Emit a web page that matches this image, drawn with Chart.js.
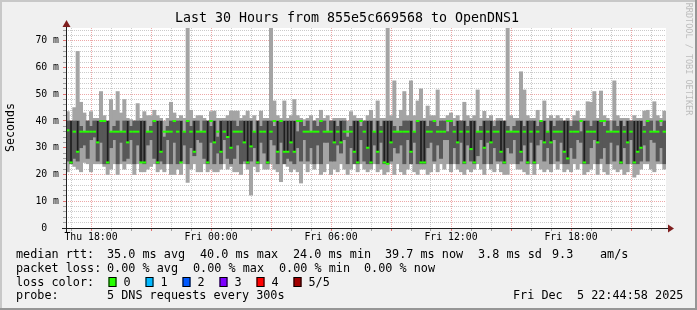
<!DOCTYPE html>
<html>
<head>
<meta charset="utf-8">
<script src="https://cdn.jsdelivr.net/npm/chart.js@4.4.0/dist/chart.umd.min.js"></script>
<style>
html,body{margin:0;padding:0;background:#f0f0f0;}
#graph{display:block;}
</style>
</head>
<body>
<canvas id="graph" width="697" height="310"></canvas>
<script>
// one slot = 10 minutes, 180 slots = last 30 hours (Thu 16:45 .. Fri 22:45), values in ms
var pingMax = [
43.5,40,45,66,47,43,40,43.5,41,41, 51,42,40,48,44,51,43,48,41,40.5,
40,46.5,41,43.5,42,42,44,42,41,40, 41,47,43,41,42,41,74.8,44,41,42,
42,41,40,43.5,43.7,41,41,41,42,43.7, 43.7,43.7,41,42,43.7,41,42,40,43.7,41,
41,74.8,47.5,42,41,47.5,41,42,48,42, 41,40.5,41,42,40,41,44,41,42,40,
41,41,41,41,40,43.5,42,41,41,40, 42,44,41,47.5,41,41,74.8,42,55,41,
44,51,42,55,42,47.5,52,41,45.6,42, 42,51.6,41,41,42,43,41,42,40,47,
42,41,42,51.6,41,43.6,41,42,40,41, 41,40,74.8,42,41,41,58.4,51.6,42,41,
41,44,40,47.5,41,42,41,42,41,40, 41,40,42,43.7,41,41,47.2,47,51,41,
51.2,42,41,40,55,42,41,41,41,40, 42,41,41,43.7,44,41,47.2,42,41,43.7
];
var pingMin = [
21,24,23,22,21,24.5,24,21,24,24, 24,23,20,22,24,20,24,22,24,24,
20,24,21,21,22,23,24,21,22,21, 24,20,20,22,20,24,17,22,24,21,
21,24,21,22,21,21,22,24,22,23, 21,21,20,24,22,12.3,23,21,24,22,
22,24,22,21,17.3,24,23,21,22,21, 16.8,24,21,24,22,24,20,21,24,20,
22,21,24,22,20,22,24,21,24,22, 21,22,24,21,22,20,21,24,20,24,
21,20,22,24,21,20,22,22,20,21, 24,21,24,22,24,21,24,22,21,20,
22,21,22,24,22,20,24,22,21,24, 21,20,20,24,24,22,22,21,20,24,
20,24,22,21,22,21,24,22,24,21, 22,21,24,22,24,20,21,22,24,20,
24,21,20,24,22,21,22,20,21,24, 19,20,22,24,24,22,21,24,24,22
];
var pingHi = [
40,40,40,40,38,36,40,38,40,40, 40,40,40,36,38,40,36,40,40,38,
40,40,40,40,36,38,40,40,40,34, 38,40,40,40,40,36,40,38,40,40,
36,40,40,38,40,34,40,40,40,40, 40,38,40,40,40,40,36,40,38,40,
40,40,38,40,40,40,40,40,40,36, 40,38,40,36,40,38,40,40,36,40,
40,38,40,40,34,38,40,40,38,40, 40,40,36,40,38,40,40,40,38,36,
38,40,40,40,36,40,40,40,38,40, 40,38,40,40,36,40,38,40,40,40,
38,40,40,36,38,40,40,40,38,40, 40,40,38,36,38,40,40,38,40,40,
40,38,40,40,36,40,38,40,40,40, 40,38,40,40,36,40,40,38,40,40,
40,38,40,36,40,38,40,38,40,40, 40,40,40,38,40,40,36,40,38,40
];
var pingLo = [
25,24,26,25,30,31,26,33,34,25, 32,24,24,30,33,24,32,25,26,33,
24,31,25,24,31,33,26,24,25,24, 33,24,32,24,25,31,24,30,27,33,
32,26,24,32,24,28,24,33,26,24, 26,31,24,25,24,25,30,24,32,28,
24,33,31,24,32,24,26,25,24,30, 25,33,25,30,24,31,24,32,32,25,
25,31,28,33,24,30,24,24,33,25, 24,24,31,24,32,24,24,25,30,28,
31,24,33,24,32,24,24,24,30,32, 25,31,26,33,33,24,30,24,32,24,
31,25,24,27,33,24,32,24,30,25, 25,24,30,28,33,24,25,31,24,32,
24,31,33,25,30,24,33,25,32,24, 24,30,26,33,32,24,24,30,33,24,
26,30,24,32,25,31,24,30,24,33, 24,24,25,31,25,33,32,25,30,24
];
var medianRtt = [
36.5,24.5,36,28.5,36,36,36,36,36,32, 40,40,24.5,36,36,36,36,36,32,36,
36,36,24.5,24.5,36,36,40,24.5,28.5,36, 36,36,40,36,24.5,36,40,36,28.5,36,
36,36,24.5,40,32,36,28.5,36,34,30, 36,36,36,32,24.5,30.5,36,24.5,36,36,
24.5,36,40,28.5,40,28.5,28.5,32,28.5,40, 40,36,36,36,36,36,40,36,36,36,
32,36,32,36,36,36,28.5,24.5,40,36, 30,24.5,36,28.5,36,24.5,24,32,36,36,
36,36,36,28.5,36,40,24.5,24.5,36,36, 40,36,36,36,40,40,36,32,36,24.5,
36,29.5,24.5,36,36,30,36,32,36,36, 28.5,24.5,36,36,36,36,28.5,36,24.5,36,
24.5,36,40,32,36,32,36,36,36,28.5, 26,36,36,36,40,24.5,36,36,36,32,
40,40,36,36,36,36,24.5,36,32,36, 24.5,28.5,30,36,40,36,36,36,40,36
];
// top of the darkest band (from the median up), null where there is none
var n = null;
var coreTop = [
n,40,n,40,n,n,n,n,n,40, n,n,40,n,n,n,n,n,40,n,
n,n,40,40,n,n,n,40,40,n, n,n,n,n,40,n,n,n,40,n,
n,n,40,n,40,n,40,n,40,40, n,n,n,40,40,40,n,40,n,n,
40,n,n,40,n,40,40,40,40,n, n,n,n,n,n,n,n,n,n,n,
40,n,40,n,n,n,40,40,n,n, 40,40,n,40,n,40,40,40,n,n,
n,n,n,40,n,n,40,40,n,n, n,n,n,n,n,n,n,40,n,40,
n,40,40,n,n,40,n,40,n,n, 40,40,n,n,n,n,40,n,40,n,
40,n,n,40,n,40,n,n,n,40, 40,n,n,n,n,40,n,n,n,40,
n,n,n,n,n,n,40,n,40,n, 40,40,40,n,n,n,n,n,n,n
];

var hourLabels = ['Thu 18:00','Fri 00:00','Fri 06:00','Fri 12:00','Fri 18:00'];
var hourLabelSlots = [7.5,43.5,79.5,115.5,151.5];
var yLabelValues = [0,10,20,30,40,50,60,70];
var yLabels = [' 0  ','10 m','20 m','30 m','40 m','50 m','60 m','70 m'];

var rttStats = ['35.0 ms avg','40.0 ms max','24.0 ms min','39.7 ms now','3.8 ms sd','9.3','am/s'];
var lossStats = ['0.00 % avg','0.00 % max','0.00 % min','0.00 % now'];
var lossNames = ['0','1','2','3','4','5/5'];
var lossColors = ['#26ff00','#00b8ff','#0059ff','#7e00ff','#ff0000','#a10000'];

var mono = "'DejaVu Sans Mono', monospace";

function bars(lo, hi){
    var out = [];
    for (var i=0;i<lo.length;i++){
        if (lo[i]==null || hi[i]==null) out.push({x:i+0.5, y:null});
        else out.push({x:i+0.5, y:[lo[i],hi[i]]});
    }
    return out;
}
function points(v){
    var out = [];
    for (var i=0;i<v.length;i++) out.push({x:i+0.5, y:v[i]});
    return out;
}

var minorGrid = 'rgba(140,140,140,0.45)';
var majorGrid = 'rgba(225,110,110,0.6)';
function isMajorX(ctx){ return ctx.tick && ((ctx.tick.value-7.5)%18===0); }
function isMajorY(ctx){ return ctx.tick && (ctx.tick.value%10===0); }

var decor = {
    id: 'decor',
    beforeDraw: function(chart){
        var c = chart.ctx, a = chart.chartArea;
        c.save();
        c.fillStyle = '#f0f0f0';
        c.fillRect(0,0,697,310);
        c.fillStyle = '#c8c8c8';
        c.fillRect(0,0,697,2);
        c.fillRect(0,0,2,310);
        c.fillStyle = '#969696';
        c.fillRect(0,308,697,2);
        c.fillRect(695,0,2,310);
        c.fillStyle = '#ffffff';
        c.fillRect(a.left, a.top, a.right-a.left, a.bottom-a.top);
        c.restore();
    },
    afterDraw: function(chart){
        var c = chart.ctx, a = chart.chartArea;
        c.save();
        // axes with arrows
        c.strokeStyle = '#1f1f1f';
        c.lineWidth = 1;
        c.beginPath();
        c.moveTo(62, a.bottom+0.5); c.lineTo(670, a.bottom+0.5);
        c.moveTo(a.left+0.5, a.bottom+4); c.lineTo(a.left+0.5, 23);
        c.stroke();
        c.fillStyle = '#7f1f1f';
        c.beginPath();
        c.moveTo(668, a.bottom-3.5); c.lineTo(674, a.bottom+0.5); c.lineTo(668, a.bottom+4.5);
        c.closePath(); c.fill();
        c.beginPath();
        c.moveTo(a.left-3.5, 27); c.lineTo(a.left+0.5, 20); c.lineTo(a.left+4.5, 27);
        c.closePath(); c.fill();

        // title, unit, watermark
        c.fillStyle = '#000';
        c.textBaseline = 'middle';
        c.textAlign = 'center';
        c.font = '13.3px ' + mono;
        c.fillText('Last 30 Hours from 855e5c669568 to OpenDNS1', 347, 19);
        c.save();
        c.translate(11, 127.5);
        c.rotate(-Math.PI/2);
        c.font = '11.6px ' + mono;
        c.fillText('Seconds', 0, 0);
        c.restore();
        c.save();
        c.translate(688, 59);
        c.rotate(Math.PI/2);
        c.fillStyle = '#bdbdbd';
        c.font = '8.5px ' + mono;
        c.fillText('RRDTOOL / TOBI OETIKER', 0, 0);
        c.restore();

        // legend block
        c.textAlign = 'left';
        c.font = '11.8px ' + mono;
        var rttX = [107,200,293,385,478,552,600];
        c.fillText('median rtt:', 16, 254.5);
        for (var i=0;i<rttStats.length;i++) c.fillText(rttStats[i], rttX[i], 254.5);
        var lossX = [107,193,279,364];
        c.fillText('packet loss:', 16, 268.5);
        for (var j=0;j<lossStats.length;j++) c.fillText(lossStats[j], lossX[j], 268.5);
        c.fillText('loss color:', 16, 282.5);
        for (var k=0;k<lossNames.length;k++){
            var bx = 108.5 + k*37;
            c.fillStyle = lossColors[k];
            c.fillRect(bx, 277, 8, 10);
            c.strokeStyle = '#000';
            c.strokeRect(bx+0.5, 277.5, 7, 9);
            c.fillStyle = '#000';
            c.fillText(lossNames[k], bx+15, 282.5);
        }
        c.fillText('probe:', 16, 296);
        c.fillText('5 DNS requests every 300s', 107, 296);
        c.fillText('Fri Dec  5 22:44:58 2025', 513, 296);
        c.restore();
    }
};

new Chart(document.getElementById('graph'), {
    type: 'bar',
    data: {
        datasets: [
            {type:'line', data: points(medianRtt), showLine:false, pointStyle:'line',
             pointRadius:1.7, pointBorderWidth:2, borderColor:'#26ff00', backgroundColor:'#26ff00', order:0},
            {data: bars(medianRtt, coreTop), backgroundColor:'#1e1e1e', grouped:false,
             barPercentage:0.5, categoryPercentage:1, order:1},
            {data: bars(pingLo, pingHi), backgroundColor:'#585858', grouped:false,
             barPercentage:1, categoryPercentage:1, order:2},
            {data: bars(pingMin, pingMax), backgroundColor:'#a4a4a4', grouped:false,
             barPercentage:1, categoryPercentage:1, order:3}
        ]
    },
    options: {
        responsive: false,
        animation: false,
        devicePixelRatio: 1,
        layout: {padding: {left:0, top:28, right:31, bottom:62}},
        plugins: {legend:{display:false}, tooltip:{enabled:false}, title:{display:false}},
        scales: {
            x: {
                type: 'linear', min: 0, max: 180, offset: false,
                afterFit: function(s){ s.height = 20; },
                afterBuildTicks: function(s){
                    var t = [];
                    for (var h=1.5; h<180; h+=6) t.push({value:h});
                    s.ticks = t;
                },
                grid: {
                    offset: false,
                    color: function(ctx){ return isMajorX(ctx) ? majorGrid : minorGrid; },
                    tickColor: function(ctx){ return isMajorX(ctx) ? '#e07070' : '#a0a0a0'; },
                    tickLength: 3, tickBorderDash: []
                },
                border: {display:false, dash:[1,1]},
                ticks: {
                    autoSkip:false, maxRotation:0, minRotation:0, padding:1,
                    color:'#000', font:{family:mono, size:9.8},
                    callback: function(v){
                        var i = hourLabelSlots.indexOf(v);
                        return i<0 ? '' : hourLabels[i];
                    }
                }
            },
            y: {
                min: 0, max: 74.75,
                afterFit: function(s){ s.width = 66; },
                afterBuildTicks: function(s){
                    var t = [];
                    for (var v=0; v<=74; v+=2) t.push({value:v});
                    s.ticks = t;
                },
                grid: {
                    color: function(ctx){ return isMajorY(ctx) ? majorGrid : minorGrid; },
                    tickColor: function(ctx){ return isMajorY(ctx) ? '#e07070' : '#a0a0a0'; },
                    tickLength: 3, tickBorderDash: []
                },
                border: {display:false, dash:[1,1]},
                ticks: {
                    autoSkip:false, padding:4, color:'#000', font:{family:mono, size:9.8},
                    callback: function(v){
                        var i = yLabelValues.indexOf(v);
                        return i<0 ? '' : yLabels[i];
                    }
                }
            }
        }
    },
    plugins: [decor]
});
</script>
</body>
</html>
